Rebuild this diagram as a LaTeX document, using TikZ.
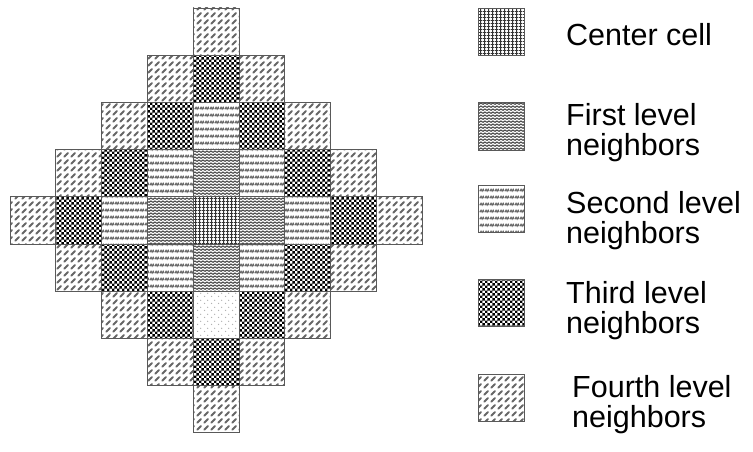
\documentclass[tikz,border=0pt]{standalone}
\usepackage{fontspec}
\setmainfont{Liberation Sans}
\usetikzlibrary{patterns.meta}

\tikzdeclarepattern{name=finegrid,
  bounding box={(0pt,0pt) and (3.6pt,3.4pt)}, tile size={(3.6pt,3.4pt)},
  code={\draw[line width=.9pt] (0pt,1.7pt) -- (3.6pt,1.7pt) (1.8pt,0pt) -- (1.8pt,3.4pt);}}
\tikzdeclarepattern{name=densezigzag,
  bounding box={(0pt,0pt) and (4.4pt,2.8pt)}, tile size={(4.4pt,2.8pt)},
  code={\draw[line width=1.2pt] (0pt,.7pt) -- (2.2pt,2.1pt) -- (4.4pt,.7pt);}}
\tikzdeclarepattern{name=zigzagbands,
  bounding box={(0pt,0pt) and (5pt,6.8pt)}, tile size={(5pt,6.8pt)},
  code={\draw[line width=1.2pt] (0pt,1.8pt) -- (1.25pt,3.8pt) -- (2.5pt,1.8pt) -- (3.75pt,3.8pt) -- (5pt,1.8pt);}}
\tikzdeclarepattern{name=smallchecks,
  bounding box={(0pt,0pt) and (5.4pt,5.4pt)}, tile size={(5.4pt,5.4pt)},
  code={\fill (0pt,0pt) rectangle (2.7pt,2.7pt) (2.7pt,2.7pt) rectangle (5.4pt,5.4pt);}}
\tikzdeclarepattern{name=diagdashes,
  bounding box={(0pt,0pt) and (7pt,7pt)}, tile size={(7pt,7pt)},
  code={\draw[line width=2pt,line cap=round] (1.3pt,1.3pt) -- (5.7pt,5.7pt);}}
\tikzdeclarepattern{name=softdots,
  bounding box={(0pt,0pt) and (7pt,7pt)}, tile size={(7pt,7pt)},
  code={\fill (1.75pt,1.75pt) circle (.8pt) (5.25pt,5.25pt) circle (.8pt);}}

\begin{document}
\begin{tikzpicture}[x=1pt,y=-1pt,
  cell/.style={draw=black!65,line width=.8pt,minimum width=45.8pt,minimum height=47.2pt,inner sep=0pt,outer sep=0pt},
  lev0/.style={pattern=finegrid,pattern color=black!80},
  lev1/.style={pattern=densezigzag,pattern color=black!70},
  lev2/.style={pattern=zigzagbands,pattern color=black!60},
  lev3/.style={pattern=smallchecks,pattern color=black},
  lev4/.style={pattern=diagdashes,pattern color=black!60},
  spot/.style={pattern=softdots,pattern color=black!30},
  keytext/.style={anchor=north west,align=left,inner sep=0pt,font=\fontsize{30.5}{30.5}\selectfont}]
  \useasboundingbox (0,0) rectangle (753,452);
  % diamond of cells, level = distance from the centre
  \foreach \r in {0,...,8}
    \foreach \c in {0,...,8} {
      \pgfmathtruncatemacro\lev{abs(\r-4)+abs(\c-4)}
      \ifnum\r\c=64 \def\sty{spot}\else\def\sty{lev\lev}\fi
      \ifnum\lev<5
        \node[cell,\sty] (c\r\c) at ({32.9+45.8*\c},{31.6+47.2*\r}) {};
      \fi
    }
  % legend
  \foreach \i/\y/\tx/\ty/\txt in {0/32/566/23/{Center cell},1/126.5/566/103/{First level\\neighbors},
      2/209/566/191/{Second level\\neighbors},3/303/566/281/{Third level\\neighbors},
      4/398/572/375/{Fourth level\\neighbors}} {
    \node[cell,lev\i] (key\i) at (501,\y) {};
    \node[keytext] (lbl\i) at (\tx,\ty) {\txt};
  }
\end{tikzpicture}
\end{document}
